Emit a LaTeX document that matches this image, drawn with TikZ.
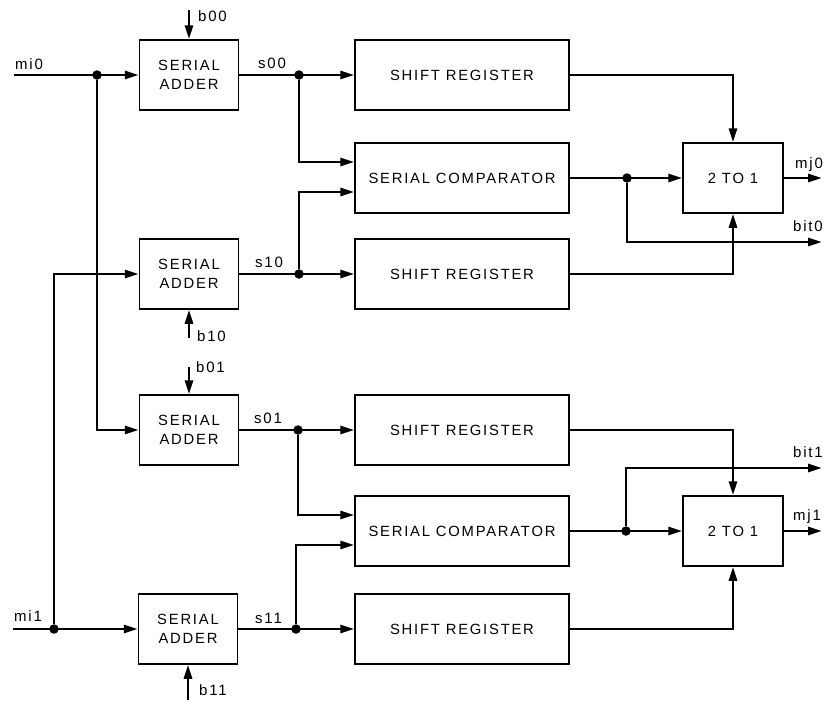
\documentclass[tikz,border=0pt]{standalone}
\usepackage{fontspec}
\setmainfont{Liberation Sans}
\newfontfamily\blockfont[LetterSpace=12]{Liberation Sans}
\usetikzlibrary{arrows.meta,calc,positioning}

\begin{document}
\begin{tikzpicture}[x=1pt,y=-1pt,
    blok/.style={draw, line width=1.5pt, minimum height=70pt, inner sep=0pt, align=center,
      font=\blockfont\fontsize{14.8}{18.5}\selectfont},
    adder/.style={blok, minimum width=99pt},
    reg/.style={blok, minimum width=214pt},
    mux/.style={blok, minimum width=100pt},
    wire/.style={line width=2.7pt},
    sig/.style={wire, -{Triangle[length=14pt,width=8pt]}},
    dot/.style={circle, fill, inner sep=0pt, minimum size=9.5pt},
    lbl/.style={anchor=base west, inner sep=0pt, font=\blockfont\fontsize{15}{17}\selectfont}]
  \useasboundingbox (0,0) rectangle (826,702);

  % serial adders
  \node[adder] (add00) at (189,75) {SERIAL\\ADDER};
  \node[adder] (add10) at (189,274) {SERIAL\\ADDER};
  \node[adder] (add01) at (189,430) {SERIAL\\ADDER};
  \node[adder] (add11) at (188,629) {SERIAL\\ADDER};
  % registers and comparators
  \node[reg] (sr00) at (462,75) {SHIFT REGISTER};
  \node[reg] (cmp0) at (462,178) {SERIAL COMPARATOR};
  \node[reg] (sr10) at (462,274) {SHIFT REGISTER};
  \node[reg] (sr01) at (462,430) {SHIFT REGISTER};
  \node[reg] (cmp1) at (462,531) {SERIAL COMPARATOR};
  \node[reg] (sr11) at (462,629) {SHIFT REGISTER};
  % multiplexers
  \node[mux] (mux0) at (733,178) {2 TO 1};
  \node[mux] (mux1) at (733,531) {2 TO 1};

  % inputs mi
  \coordinate (mi0) at (14,75);
  \coordinate (mi1) at (13,629);
  \node[dot] (j0) at (97,75) {};
  \node[dot] (j1) at (54,629) {};
  \draw[sig] (mi0) -- (add00.west);
  \draw[sig] (mi1) -- (add11.west);
  \draw[sig] (j0) |- (add01.west);
  \draw[sig] (j1) |- (add10.west);
  \node[lbl] (lmi0) at (15,69) {mi0};
  \node[lbl] (lmi1) at (14,621) {mi1};

  % inputs b
  \coordinate (b00) at (189,10);
  \coordinate (b10) at (189,338);
  \coordinate (b01) at (189,367);
  \coordinate (b11) at (188,700);
  \draw[sig] (b00) -- (add00.north);
  \draw[sig] (b10) -- (add10.south);
  \draw[sig] (b01) -- (add01.north);
  \draw[sig] (b11) -- (add11.south);
  \node[lbl] (lb00) at (198,21) {b00};
  \node[lbl] (lb10) at (197,341) {b10};
  \node[lbl] (lb01) at (196,372) {b01};
  \node[lbl] (lb11) at (199,695) {b11};

  % sums
  \node[dot] (js00) at (299,75) {};
  \node[dot] (js10) at (299,274) {};
  \node[dot] (js01) at (298,430) {};
  \node[dot] (js11) at (296,629) {};
  \draw[sig] (add00.east) -- (sr00.west);
  \draw[sig] (add10.east) -- (sr10.west);
  \draw[sig] (add01.east) -- (sr01.west);
  \draw[sig] (add11.east) -- (sr11.west);
  \draw[sig] (js00) |- ($(cmp0.west)+(0,-16)$);
  \draw[sig] (js10) |- ($(cmp0.west)+(0,14)$);
  \draw[sig] (js01) |- ($(cmp1.west)+(0,-16)$);
  \draw[sig] (js11) |- ($(cmp1.west)+(0,14)$);
  \node[lbl] (ls00) at (258,68) {s00};
  \node[lbl] (ls10) at (255,267) {s10};
  \node[lbl] (ls01) at (254,423) {s01};
  \node[lbl] (ls11) at (255,623) {s11};

  % outputs
  \draw[sig] (sr00.east) -| (mux0.north);
  \draw[sig] (sr10.east) -| (mux0.south);
  \draw[sig] (sr01.east) -| (mux1.north);
  \draw[sig] (sr11.east) -| (mux1.south);
  \draw[sig] (cmp0.east) -- (mux0.west);
  \draw[sig] (cmp1.east) -- (mux1.west);
  \node[dot] (jc0) at (627,178) {};
  \node[dot] (jc1) at (626,531) {};
  \coordinate (bit0) at (822,242);
  \coordinate (bit1) at (822,468);
  \coordinate (mj0) at (822,178);
  \coordinate (mj1) at (822,531);
  \draw[sig] (jc0) |- (bit0);
  \draw[sig] (jc1) |- (bit1);
  \draw[sig] (mux0.east) -- (mj0);
  \draw[sig] (mux1.east) -- (mj1);
  \node[lbl] (lbit0) at (793,231) {bit0};
  \node[lbl] (lbit1) at (793,457) {bit1};
  \node[lbl] (lmj0) at (795,168) {mj0};
  \node[lbl] (lmj1) at (793,520) {mj1};
\end{tikzpicture}
\end{document}
